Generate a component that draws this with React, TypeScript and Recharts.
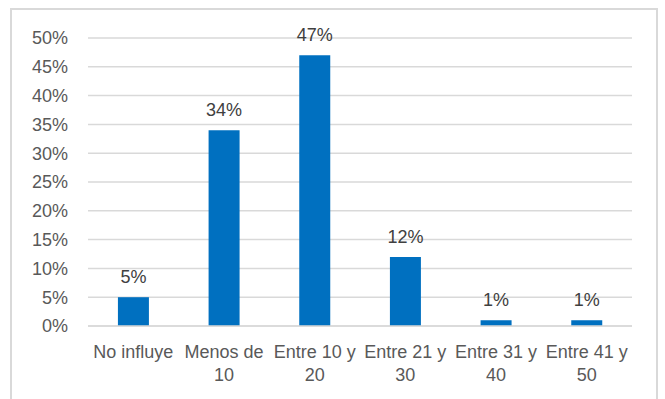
import { BarChart, Bar, XAxis, YAxis, CartesianGrid, LabelList } from 'recharts';

const categories = ['No influye', 'Menos de 10', 'Entre 10 y 20', 'Entre 21 y 30', 'Entre 31 y 40', 'Entre 41 y 50'];
const shares = [5, 34, 47, 12, 1, 1];
const yTicks = [0, 5, 10, 15, 20, 25, 30, 35, 40, 45, 50];

const data = categories.map((name, i) => ({ name, value: shares[i] }));

const FONT = '"Liberation Sans", Arial, sans-serif';
const TEXT = '#595959';

// long category names break before their last word
const splitLabel = (text: string) => {
  if (text.length <= 10) return [text];
  const cut = text.lastIndexOf(' ');
  return [text.slice(0, cut), text.slice(cut + 1)];
};

const CategoryTick = ({ x, y, payload }: any) => {
  const lines = splitLabel(String(payload.value));
  return (
    <text x={x} y={y} textAnchor="middle" fill={TEXT} fontSize={18} fontFamily={FONT}>
      {lines.map((line, i) => (
        <tspan key={i} x={x} dy={i === 0 ? 24 : 23}>
          {line}
        </tspan>
      ))}
    </text>
  );
};

export default function App() {
  return (
    <div style={{ position: 'absolute', left: 0, top: 0, width: 665, height: 399, background: '#fff', overflow: 'hidden' }}>
      <div
        style={{
          position: 'absolute',
          left: 10,
          top: 8,
          width: 648,
          height: 400,
          border: '2px solid #d9d9d9',
          boxSizing: 'border-box',
        }}
      />
      <div style={{ position: 'absolute', left: 0, top: 0 }}>
        <BarChart width={665} height={399} data={data} margin={{ top: 38, right: 33, bottom: 0, left: 0 }} barCategoryGap="33%">
          <CartesianGrid vertical={false} stroke="#d9d9d9" strokeWidth={1.5} />
          <XAxis
            dataKey="name"
            height={73}
            axisLine={{ stroke: '#d9d9d9', strokeWidth: 1.5 }}
            tickLine={false}
            interval={0}
            tick={<CategoryTick />}
          />
          <YAxis
            width={88}
            domain={[0, 50]}
            ticks={yTicks}
            interval={0}
            tickFormatter={(v) => `${v}%`}
            axisLine={false}
            tickLine={false}
            tickSize={0}
            tickMargin={20}
            tick={{ fill: TEXT, fontSize: 18, fontFamily: FONT }}
          />
          <Bar dataKey="value" fill="#0070C0" isAnimationActive={false}>
            <LabelList
              dataKey="value"
              position="top"
              offset={14}
              formatter={(v: any) => `${v}%`}
              fill="#404040"
              fontSize={18}
              fontFamily={FONT}
            />
          </Bar>
        </BarChart>
      </div>
    </div>
  );
}
